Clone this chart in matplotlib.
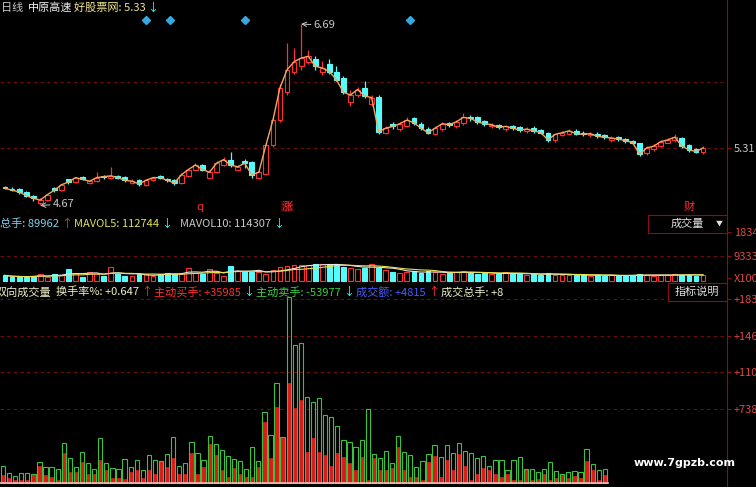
import numpy as np
import pandas as pd
import matplotlib
matplotlib.use('Agg')
import matplotlib.pyplot as plt
from matplotlib.patches import Rectangle
import matplotlib.transforms as mtransforms

plt.rcParams['font.family'] = ['Noto Sans CJK SC', 'DejaVu Sans']

# daily candles (price, yuan)
opens = [4.88, 4.85, 4.85, 4.82, 4.78, 4.70, 4.73, 4.86, 4.84, 4.96,
         4.93, 4.99, 4.92, 4.94, 5.00, 4.98, 5.00, 4.99, 4.92, 4.95,
         4.90, 4.95, 5.00, 4.97, 4.95, 4.92, 5.00, 5.06, 5.12, 4.98,
         5.04, 5.12, 5.18, 5.06, 5.16, 5.15, 4.98, 5.02, 5.34, 5.62,
         5.93, 6.15, 6.22, 6.27, 6.30, 6.15, 6.25, 6.15, 6.09, 5.82,
         5.90, 5.98, 5.80, 5.88, 5.48, 5.58, 5.52, 5.56, 5.64, 5.58,
         5.52, 5.47, 5.52, 5.59, 5.55, 5.59, 5.66, 5.65, 5.61, 5.55,
         5.57, 5.52, 5.56, 5.54, 5.50, 5.53, 5.51, 5.48, 5.40, 5.45,
         5.47, 5.50, 5.48, 5.45, 5.47, 5.45, 5.40, 5.43, 5.41, 5.39,
         5.36, 5.25, 5.30, 5.33, 5.37, 5.40, 5.42, 5.34, 5.30, 5.26]
closes = [4.86, 4.84, 4.82, 4.78, 4.75, 4.73, 4.79, 4.84, 4.90, 4.93,
          4.98, 4.96, 4.94, 4.98, 4.99, 5.00, 4.98, 4.95, 4.94, 4.91,
          4.95, 4.98, 4.98, 4.95, 4.92, 5.01, 5.07, 5.12, 5.07, 5.04,
          5.14, 5.18, 5.12, 5.10, 5.14, 5.01, 5.04, 5.34, 5.62, 5.98,
          6.18, 6.27, 6.31, 6.33, 6.22, 6.20, 6.16, 6.07, 5.93, 5.90,
          5.96, 5.89, 5.87, 5.49, 5.53, 5.55, 5.58, 5.62, 5.59, 5.53,
          5.48, 5.53, 5.58, 5.57, 5.60, 5.65, 5.64, 5.60, 5.58, 5.57,
          5.54, 5.55, 5.53, 5.51, 5.52, 5.50, 5.48, 5.40, 5.46, 5.48,
          5.50, 5.47, 5.46, 5.47, 5.44, 5.43, 5.42, 5.41, 5.39, 5.37,
          5.24, 5.31, 5.33, 5.38, 5.40, 5.43, 5.33, 5.29, 5.27, 5.31]
highs = [4.89, 4.87, 4.86, 4.83, 4.79, 4.75, 4.80, 4.87, 4.91, 4.97,
         4.99, 5.00, 4.95, 5.04, 5.01, 5.10, 5.01, 5.00, 4.96, 4.96,
         4.96, 4.99, 5.01, 4.98, 4.96, 5.03, 5.08, 5.14, 5.13, 5.06,
         5.16, 5.21, 5.27, 5.12, 5.19, 5.16, 5.06, 5.36, 5.64, 6.02,
         6.48, 6.42, 6.69, 6.40, 6.33, 6.28, 6.30, 6.22, 6.11, 5.95,
         5.99, 6.05, 5.90, 5.90, 5.56, 5.60, 5.60, 5.65, 5.66, 5.60,
         5.54, 5.55, 5.60, 5.60, 5.62, 5.70, 5.68, 5.67, 5.62, 5.59,
         5.58, 5.57, 5.57, 5.55, 5.54, 5.55, 5.52, 5.49, 5.47, 5.50,
         5.52, 5.52, 5.50, 5.49, 5.49, 5.46, 5.44, 5.44, 5.42, 5.40,
         5.36, 5.33, 5.35, 5.40, 5.42, 5.46, 5.43, 5.35, 5.31, 5.33]
lows = [4.85, 4.83, 4.80, 4.76, 4.72, 4.67, 4.72, 4.82, 4.83, 4.91,
        4.92, 4.95, 4.91, 4.93, 4.97, 4.97, 4.96, 4.93, 4.91, 4.89,
        4.89, 4.94, 4.96, 4.93, 4.90, 4.91, 4.99, 5.05, 5.05, 4.97,
        5.03, 5.11, 5.10, 5.05, 5.09, 4.98, 4.97, 5.01, 5.32, 5.60,
        5.90, 6.13, 6.18, 6.24, 6.18, 6.12, 6.13, 6.05, 5.91, 5.78,
        5.88, 5.87, 5.78, 5.47, 5.46, 5.52, 5.50, 5.54, 5.57, 5.51,
        5.46, 5.45, 5.50, 5.54, 5.53, 5.57, 5.61, 5.58, 5.55, 5.53,
        5.52, 5.50, 5.51, 5.49, 5.48, 5.48, 5.46, 5.38, 5.38, 5.44,
        5.45, 5.45, 5.44, 5.43, 5.42, 5.41, 5.38, 5.39, 5.37, 5.35,
        5.22, 5.23, 5.28, 5.32, 5.36, 5.38, 5.31, 5.27, 5.25, 5.24]

# middle panel volume (x1000)
volume = [2100, 1500, 1500, 1500, 1900, 2800, 1600, 2500, 2100, 4500,
          3100, 1600, 3500, 2500, 1900, 5200, 2500, 1900, 1900, 2500,
          2500, 1900, 2700, 3100, 2700, 3100, 5000, 3100, 2500, 4600,
          3100, 1900, 5600, 3750, 3750, 3500, 3500, 2500, 4000, 5250,
          5600, 5900, 6000, 6000, 6250, 6250, 6250, 6250, 5400, 5000,
          4400, 5000, 6250, 5000, 4200, 3500, 3000, 3400, 3800, 3000,
          3600, 3200, 2800, 3000, 3400, 3900, 3100, 2700, 2900, 2600,
          2800, 3200, 2500, 2800, 2400, 2600, 2300, 2900, 2400, 2200,
          2300, 2100, 2400, 2000, 2200, 2000, 2100, 1900, 2000, 2300,
          2700, 2200, 2000, 2100, 2300, 2600, 2400, 2200, 2000, 2300]

# bottom panel: total volume and active-buy volume
total_vol = [1700, 1000, 700, 1000, 1000, 900, 2100, 1600, 1600, 1400,
             4000, 2500, 1600, 3100, 2000, 1400, 4500, 2000, 1500, 1400,
             2400, 1600, 2300, 1300, 2800, 2300, 2200, 2900, 4600, 1700,
             2000, 4100, 3000, 2300, 4700, 3900, 3300, 2700, 2400, 2200,
             1400, 3600, 2200, 7100, 4800, 10000, 4600, 18500, 13800, 14000,
             8600, 8100, 8500, 6800, 6600, 5700, 4300, 4100, 3600, 4300,
             7400, 2900, 2500, 3200, 2000, 4700, 3100, 2800, 1600, 2200,
             2900, 3800, 2600, 3800, 3000, 4000, 3200, 3000, 2500, 2700,
             1700, 2300, 2300, 1300, 2300, 2600, 1400, 1400, 1100, 1400,
             2100, 1200, 900, 1100, 1200, 1100, 3400, 1900, 1300, 1400]
buy_vol = [800, 500, 300, 300, 300, 900, 1700, 800, 600, 300,
           3000, 1100, 1100, 2100, 900, 900, 2300, 1300, 500, 500,
           400, 1100, 1300, 500, 1300, 900, 2200, 1600, 2500, 900,
           900, 3000, 900, 1600, 3900, 2800, 1300, 600, 1500, 900,
           600, 600, 1600, 6100, 2500, 7600, 4600, 10000, 7500, 8300,
           3100, 4500, 3100, 2800, 1700, 3000, 2600, 2000, 1300, 2600,
           300, 2500, 1300, 1300, 1500, 3600, 1300, 600, 600, 300,
           2100, 2700, 600, 2300, 1300, 2900, 1700, 300, 900, 1500,
           1300, 900, 600, 900, 300, 300, 1400, 300, 400, 900,
           300, 500, 800, 500, 700, 500, 2200, 1300, 300, 800]

bottom_ticks = [18344, 14690, 11040, 7380]
bottom_labels = ['+18344', '+14690', '+11040', '+7380']

W, H = 756, 487
RED = '#ff3030'
CYAN = '#54fcfc'
GRID = '#6a0e0e'
AXC = '#8a1010'
LBL = '#e04848'

fig = plt.figure(figsize=(W / 100, H / 100), dpi=100, facecolor='black')
renderer = fig.canvas.get_renderer()


def ptext(px, py, s, color, **kw):
    kw.setdefault('fontsize', 8)
    return fig.text(px / W, 1 - py / H, s, color=color, va='center', ha='left', **kw)


def chain(px, py, parts, gap=2):
    # draw coloured pieces one after another on one row
    for s, col in parts:
        t = ptext(px, py, s, col)
        px += t.get_window_extent(renderer).width + gap
    return px


def style(ax):
    ax.set_facecolor('black')
    for k in ['top', 'left']:
        ax.spines[k].set_visible(False)
    ax.spines['right'].set_color(AXC)
    ax.spines['bottom'].set_color(AXC)
    ax.yaxis.tick_right()
    ax.set_xticks([])
    ax.tick_params(axis='y', colors=AXC, length=3, pad=2, labelsize=8)


x = np.arange(len(closes))
o = np.array(opens)
c = np.array(closes)
up = c >= o

# ---- price panel
ax1 = fig.add_axes([0, (H - 213) / H, 727 / W, 213 / H])
style(ax1)
ax1.set_xlim(-0.71, 102.4)
ax1.set_ylim(4.586, 6.957)
for lvl in [6.044, 5.31]:
    ax1.axhline(lvl, color=GRID, lw=0.8, ls=(0, (3, 3)), zorder=0)
cols = np.where(up, RED, CYAN)
ax1.vlines(x, lows, highs, colors=cols, lw=0.9, zorder=2)
ax1.bar(x, np.abs(c - o), bottom=np.minimum(o, c), width=0.68,
        color=np.where(up, 'black', CYAN), edgecolor=cols, linewidth=0.8, zorder=3)
ax1.plot(x, closes, color='#f0a860', lw=1.0, zorder=4)
ax1.set_yticks([5.31])
ax1.set_yticklabels(['5.31'], color='#c8c8c8')
ax1.annotate('6.69', xy=(42, 6.69), xytext=(9, -1), textcoords='offset points',
             color='#c8c8c8', fontsize=8, va='center',
             arrowprops=dict(arrowstyle='->', color='#c8c8c8', lw=0.7,
                             shrinkA=0, shrinkB=0))
ax1.annotate('4.67', xy=(5, 4.67), xytext=(9, 1), textcoords='offset points',
             color='#c8c8c8', fontsize=8, va='center',
             arrowprops=dict(arrowstyle='->', color='#c8c8c8', lw=0.7,
                             shrinkA=0, shrinkB=0))
tr = mtransforms.blended_transform_factory(ax1.transData, ax1.transAxes)
for xi in [20, 23.4, 34, 57.4]:
    ax1.plot(xi, 0.905, marker='D', ms=4, color='#3aa8e0', transform=tr, clip_on=False)
ax1.text(27.7, 0.03, 'q', color=RED, fontsize=8, ha='center', va='center', transform=tr)
ax1.text(40, 0.03, '涨', color=RED, fontsize=8, ha='center', va='center', transform=tr,
         bbox=dict(facecolor='#3a0808', edgecolor='none', pad=0.5))
ax1.text(97, 0.03, '财', color=RED, fontsize=8, ha='center', va='center', transform=tr)

# ---- volume panel
ax2 = fig.add_axes([0, (H - 284) / H, 727 / W, 71 / H])
style(ax2)
ax2.set_xlim(-0.71, 102.4)
ax2.set_ylim(-1125, 25500)
ax2.axhline(9333, color=GRID, lw=0.8, ls=(0, (3, 3)), zorder=0)
ax2.bar(x, volume, width=0.68, color=np.where(up, 'black', CYAN),
        edgecolor=cols, linewidth=0.8)
vs = pd.Series(volume)
ax2.plot(x, vs.rolling(5, min_periods=1).mean(), color='#e8e8e8', lw=0.8)
ax2.plot(x, vs.rolling(10, min_periods=1).mean(), color='#e8e050', lw=0.8)
ax2.set_yticks([18344, 9333, 1000])
ax2.set_yticklabels(['18344', '9333', 'X1000'], color=LBL)

# ---- two-way volume panel
ax3 = fig.add_axes([0, 0, 727 / W, 203 / H])
style(ax3)
ax3.spines['bottom'].set_visible(False)
ax3.set_xlim(-0.49, 119.1)
ax3.set_ylim(-400, 19840)
ax3.set_yticks(bottom_ticks)
ax3.set_yticklabels(bottom_labels, color=LBL)
ax3.grid(axis='y', color=GRID, lw=0.8, ls=(0, (3, 3)))
ax3.set_axisbelow(True)
ax3.bar(x, buy_vol, width=0.7, color='#e01818', edgecolor='#e01818', linewidth=0.5)
ax3.bar(x, total_vol, width=0.7, facecolor='none', edgecolor='#3cc040', linewidth=0.8)
ax3.plot([-0.5, 99.5], [0, 0], color='#ffb8b8', lw=1.2)

# ---- header texts
chain(1, 8, [('日线', '#c8c8c8')])
chain(28, 8, [('中原高速', '#f0f0f0')])
chain(74, 8, [('好股票网: 5.33', '#f0e68c'), ('↓', CYAN)], gap=1)

end = chain(0, 224, [('总手: 89962', '#80d0f0'), ('↑', RED), ('MAVOL5: 112744', '#e0e060'),
                     ('↓', CYAN)], gap=2)
chain(end + 6, 224, [('MAVOL10: 114307', '#c8c8c8'), ('↓', CYAN)], gap=2)

chain(-4, 292, [('双向成交量', '#f0f0c8')])
chain(56, 292, [('换手率%: +0.647', '#f0f0c8'), ('↑', RED),
                ('主动买手: +35985', RED), ('↓', CYAN),
                ('主动卖手: -53977', '#40d040'), ('↓', CYAN),
                ('成交额: +4815', '#4a5cff'), ('↑', RED),
                ('成交总手: +8', '#f0f0c8')], gap=2)

# boxes on the right
for (bx, by, bw, bh) in [(648, 215, 79, 18), (668, 283, 59, 18)]:
    fig.patches.append(Rectangle((bx / W, 1 - (by + bh) / H), bw / W, bh / H,
                                 transform=fig.transFigure, facecolor='black',
                                 edgecolor=AXC, lw=0.8, zorder=5))
fig.text(687 / W, 1 - 224 / H, '成交量', color='#e0e0e0', fontsize=8,
         ha='center', va='center', zorder=6)
fig.text(719 / W, 1 - 224 / H, '▼', color='#e0e0e0', fontsize=5,
         ha='center', va='center', zorder=6)
fig.text(697 / W, 1 - 292 / H, '指标说明', color='#e0e0e0', fontsize=8,
         ha='center', va='center', zorder=6)

fig.text(685 / W, 1 - 463 / H, 'www.7gpzb.com', color='white', fontsize=8,
         fontweight='bold', ha='center', va='center', family='DejaVu Sans')

fig.savefig('out.png', dpi=100, facecolor='black')
